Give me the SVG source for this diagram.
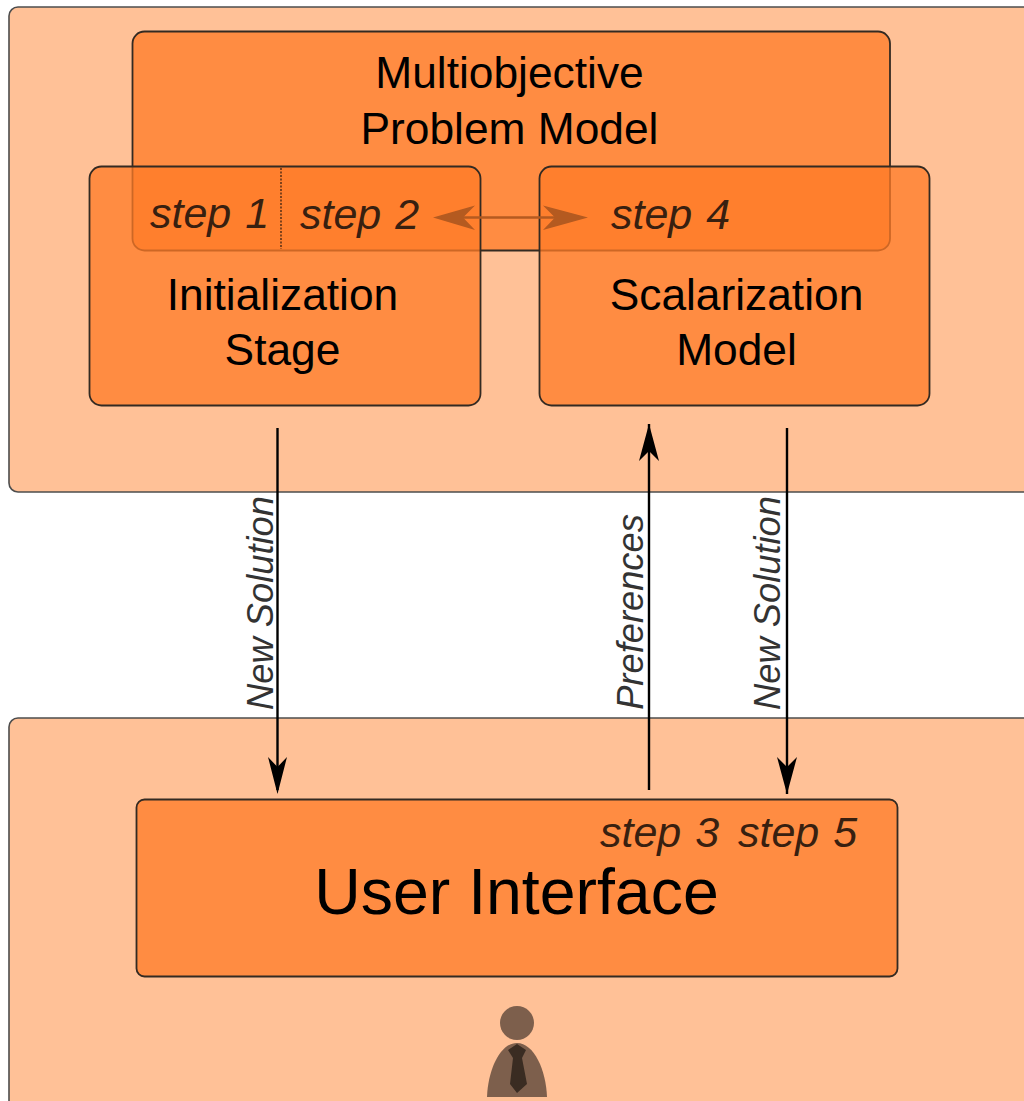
<svg xmlns="http://www.w3.org/2000/svg" width="1024" height="1101" viewBox="0 0 1024 1101">
<defs>
<marker id="ah" markerUnits="userSpaceOnUse" markerWidth="40" markerHeight="24" viewBox="-38 -12 40 24" refX="0" refY="0" orient="auto" overflow="visible"><path d="M0 0L-37-10-27 0-37 10Z" fill="#000"/></marker>
</defs>
<style>
.zone{fill:#ffc197;stroke:#4d4d4d;stroke-width:1.6}
.box{fill:#ff8c42;stroke:#332a22;stroke-width:1.8}
.over{fill:#ff7b26;fill-opacity:.755;stroke:#332a22;stroke-width:1.8}
.t{font-family:"Liberation Sans",Arial,sans-serif;fill:#000;text-anchor:middle}
.n{font-size:44.3px}
.s{font-size:43px;font-style:italic;fill:#382010;text-anchor:start;word-spacing:2px}
.l{font-size:36.300px;font-style:italic;fill:#333}
.c{stroke:#000;stroke-width:2.4;fill:none}
</style>
<rect width="1024" height="1101" fill="#fff"/>
<g id="zone-top"><rect class="zone" x="9" y="7" width="1040" height="485" rx="9"/></g>
<g id="zone-bottom"><rect class="zone" x="9" y="718" width="1040" height="420" rx="9"/></g>
<g id="problem"><rect class="box" x="132.500" y="31.500" width="757.500" height="219" rx="12"/>
<text class="t n" x="509.500" y="88">Multiobjective</text><text class="t n" x="509.500" y="144">Problem Model</text></g>
<g id="initialization"><rect class="over" x="89.500" y="166.500" width="391" height="239" rx="12"/>
<text class="t n" x="282.500" y="310">Initialization</text><text class="t n" x="282.500" y="365">Stage</text>
<line x1="281" y1="168" x2="281" y2="249" stroke="#2a1a10" stroke-width="1.200" stroke-dasharray="2 1.500"/>
<text class="t s" x="150" y="228">step 1</text><text class="t s" x="300" y="229">step 2</text></g>
<g id="scalarization"><rect class="over" x="539.500" y="166.500" width="390" height="239" rx="12"/>
<text class="t n" x="736.500" y="310">Scalarization</text><text class="t n" x="736.500" y="365">Model</text>
<text class="t s" x="611" y="229">step 4</text></g>
<g id="user-interface"><rect class="box" x="136.500" y="799.500" width="761" height="177" rx="8"/>
<text class="t" x="516.500" y="914" font-size="64.400">User Interface</text>
<text class="t s" x="600" y="847">step 3</text><text class="t s" x="738" y="847">step 5</text></g>
<g id="user">
<circle cx="517" cy="1023" r="17" fill="#7d5f4c"/>
<path d="M487 1097C488 1070 500 1043 517 1043C534 1043 546 1070 547 1097Z" fill="#7d5f4c"/>
<path d="M517 1044L526 1050L522 1058L527 1084L517 1093L510 1084L513 1058L508 1050Z" fill="#3a2c22"/>
</g>
<g id="connectors">
<line class="c" x1="277.500" y1="428" x2="277.500" y2="790"/><path d="M277.500 794L268 757 277.500 767 287 757Z"/>
<line class="c" x1="649" y1="790" x2="649" y2="424" marker-end="url(#ah)"/>
<line class="c" x1="787" y1="428" x2="787" y2="794" marker-end="url(#ah)"/>
<g fill="#b45a20"><line x1="450" y1="217.500" x2="570" y2="217.500" stroke="#b45a20" stroke-width="2.400"/>
<path d="M433 217.500L475 205.500 463 217.500 475 230Z"/><path d="M588 217.500L543 205.500 555 217.500 543 230Z"/></g>
</g>
<g id="labels">
<text class="t l" transform="translate(273 603) rotate(-90)">New Solution</text>
<text class="t l" transform="translate(643 612) rotate(-90)">Preferences</text>
<text class="t l" transform="translate(780 603) rotate(-90)">New Solution</text>
</g>
</svg>
